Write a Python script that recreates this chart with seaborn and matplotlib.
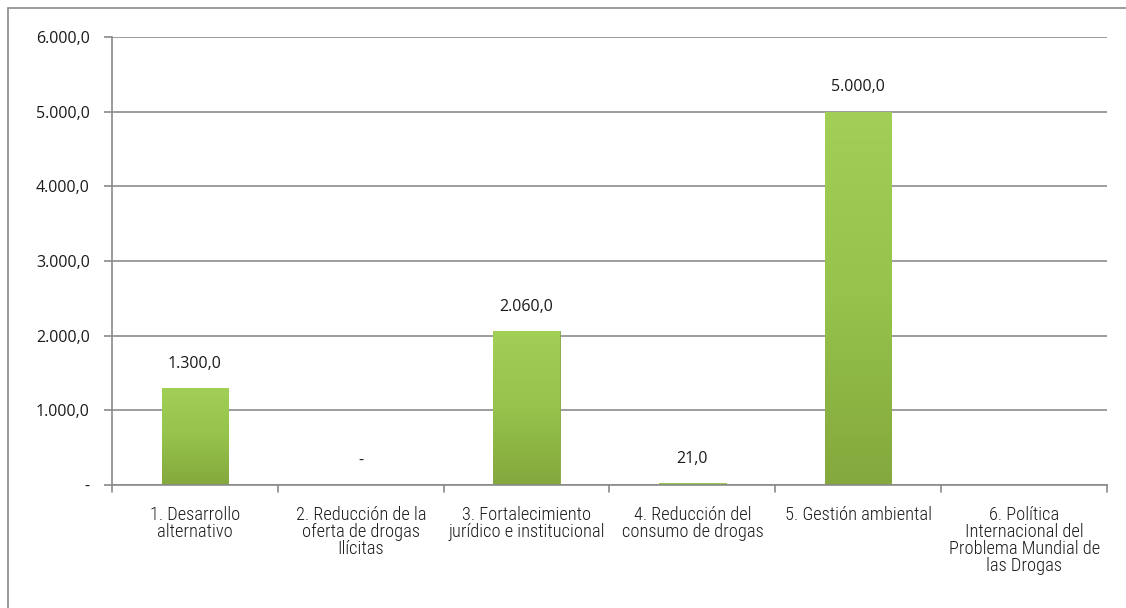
import numpy as np
import pandas as pd
import matplotlib
matplotlib.use("Agg")
import matplotlib.pyplot as plt
import seaborn as sns
from matplotlib.patches import Rectangle
from matplotlib.colors import LinearSegmentedColormap
from matplotlib import font_manager

categories = [
    "1. Desarrollo\nalternativo",
    "2. Reducción de la\noferta de drogas\nIlícitas",
    "3. Fortalecimiento\njurídico e institucional",
    "4. Reducción del\nconsumo de drogas",
    "5. Gestión ambiental",
    "6. Política\nInternacional del\nProblema Mundial de\nlas Drogas",
]
values = [1300.0, 0.0, 2060.0, 21.0, 5000.0, np.nan]
bar_labels = ["1.300,0", "-", "2.060,0", "21,0", "5.000,0", ""]
y_ticks = [0, 1000, 2000, 3000, 4000, 5000, 6000]
y_tick_labels = ["-", "1.000,0", "2.000,0", "3.000,0", "4.000,0", "5.000,0", "6.000,0"]


def pick_font(cands, default="DejaVu Sans"):
    names = {f.name for f in font_manager.fontManager.ttflist}
    for cand in cands:
        if cand in names:
            return cand
    return default


def main():
    sns.set_theme(style="white")
    cat_font = pick_font(["Roboto Condensed", "Liberation Sans Narrow", "Liberation Sans"])
    num_font = pick_font(["Open Sans", "Liberation Sans"])
    plt.rcParams["font.family"] = [num_font, "DejaVu Sans"]

    df = pd.DataFrame({"cat": categories, "val": values})

    fig = plt.figure(figsize=(11.26, 6.08), dpi=100)
    ax = fig.add_axes([112 / 1126, 1 - 485 / 608, (1107 - 112) / 1126, (485 - 37) / 608])

    sns.barplot(data=df, x="cat", y="val", color="#93C047", width=0.4,
                edgecolor="#86A844", linewidth=0.6, ax=ax)

    # vertical gradient on each bar
    cmap = LinearSegmentedColormap.from_list("g", ["#A2CF56", "#95C34B", "#84A83D"])
    grad = np.linspace(0, 1, 256).reshape(-1, 1)
    for p in ax.patches:
        h = p.get_height()
        if np.isnan(h) or h <= 0:
            continue
        x0, w = p.get_x(), p.get_width()
        im = ax.imshow(grad, cmap=cmap, aspect="auto", origin="upper",
                       extent=[x0, x0 + w, 0, h], zorder=p.get_zorder() + 0.1)
        im.set_clip_path(p)
    ax.set_aspect("auto")
    ax.set_ylim(0, 6000)
    ax.set_xlim(-0.5, len(categories) - 0.5)

    ax.set_yticks(y_ticks)
    ax.set_yticklabels(y_tick_labels, fontsize=11.5, color="#1a1a1a")
    ax.set_xticks(range(len(categories)))
    ax.set_xticklabels(categories, fontsize=13.2, color="#1a1a1a", linespacing=0.94,
                       family=[cat_font, "DejaVu Sans"], fontweight="light")
    ax.tick_params(axis="x", length=0, pad=15)
    ax.tick_params(axis="y", length=6, width=1.2, color="#8A8A8A", left=True, pad=10)

    # category separator ticks
    for b in np.arange(-0.5, len(categories), 1.0):
        ax.plot([b, b], [0, -90], color="#8A8A8A", lw=1.2, clip_on=False)

    ax.grid(axis="y", color="#8C8C8C", lw=1.2)
    ax.set_axisbelow(True)
    for s in ["top", "right"]:
        ax.spines[s].set_visible(False)
    for s in ["left", "bottom"]:
        ax.spines[s].set_color("#8A8A8A")
        ax.spines[s].set_linewidth(1.2)
    ax.set_xlabel("")
    ax.set_ylabel("")

    for i, (v, lab) in enumerate(zip(values, bar_labels)):
        if lab == "":
            continue
        y = 0 if np.isnan(v) else v
        ax.text(i, y + 220, lab, ha="center", va="bottom", fontsize=11.5, color="#1a1a1a")

    fig.patches.append(Rectangle((8 / 1126, -0.05), 1.2, 1 - 8 / 608 + 0.05,
                                 transform=fig.transFigure, fill=False,
                                 edgecolor="#8A8A8A", lw=1.2))

    fig.savefig("out.png", dpi=100)


if __name__ == "__main__":
    main()
